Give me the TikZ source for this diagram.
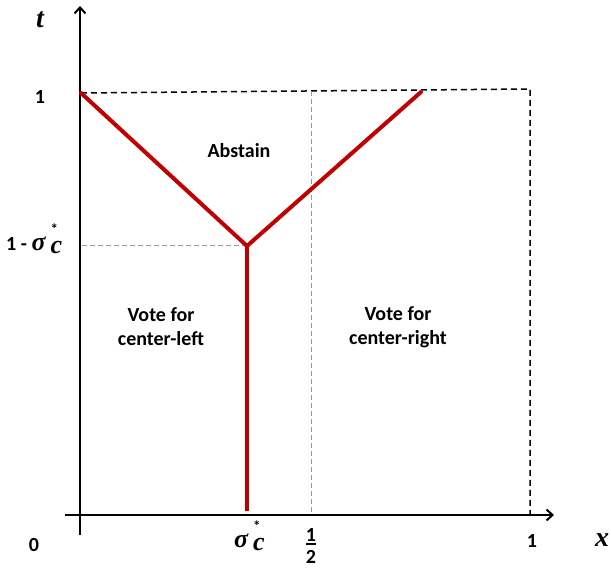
\documentclass[tikz,border=0pt]{standalone}
\usepackage{fontspec}
\setmainfont{Carlito}
\newfontfamily\axfont{Liberation Serif}
\usetikzlibrary{arrows.meta}
\newcommand{\sigcstar}{{\fontsize{26}{26}\selectfont\axfont\bfseries\itshape σ\kern5pt\rlap{\raisebox{-3pt}{c}}}\raisebox{16pt}{\fontsize{15}{15}\selectfont\bfseries *}\kern4pt}
\tikzset{
  axis/.style={line width=2.2pt, -{Straight Barb[length=6pt,width=11pt,line width=2pt]}},
  redline/.style={line width=4pt, draw={rgb,255:red,192;green,0;blue,0}, line cap=round, line join=miter},
  blackdash/.style={line width=1.5pt, dash pattern=on 6pt off 4pt},
  graydash/.style={line width=1pt, draw=gray!80, dash pattern=on 5pt off 3pt},
  lbl/.style={font=\fontsize{20}{24}\selectfont\bfseries, align=center, inner sep=0pt},
  axl/.style={font=\fontsize{28}{28}\selectfont\axfont\bfseries\itshape, inner sep=0pt}
}
\begin{document}
\begin{tikzpicture}[x=1pt,y=-1pt]
\useasboundingbox (0,0) rectangle (611,569);
% coordinates
\coordinate (O) at (80,515);
\coordinate (ybot) at (80,535);
\coordinate (ytop) at (80,6);
\coordinate (xl) at (65,515);
\coordinate (xr) at (554,515);
\coordinate (TL) at (81,93);
\coordinate (TR) at (530,89);
\coordinate (BR) at (530,514);
\coordinate (J) at (247,246);
\coordinate (RE) at (421,92);
\coordinate (RB) at (247,511);
\coordinate (HL) at (82,246);
\coordinate (HT) at (311,91);
\coordinate (HB) at (311,514);
% dashed guides
\draw[blackdash] (TL) -- (TR) -- (BR);
\draw[graydash] (HL) -- (J);
\draw[graydash] (HT) -- (HB);
% axes
\draw[axis] (ybot) -- (ytop);
\draw[axis] (xl) -- (xr);
% red boundaries
\draw[redline] (TL) -- (J) -- (RE);
\draw[redline, line cap=butt] (J) -- (RB);
% labels
\node[axl] (tlab) at (40,20) {t};
\node[axl] (xlab) at (602,540) {x};
\node[lbl] (one) at (40,97) {1};
\node[lbl, anchor=base west] (ones) at (6,251) {1 - \sigcstar};
\node[lbl] (zero) at (34,545) {0};
\node[lbl, anchor=base west] (sig) at (234,547) {\sigcstar};
\node[lbl] (halfnum) at (311,535) {1};
\node[lbl] (halfden) at (311,557) {2};
\fill (306,543) rectangle (316,545);
\node[lbl] (onex) at (532,541) {1};
\node[lbl] (abst) at (239,151) {Abstain};
\node[lbl] (left) at (161,327) {Vote for\\center-left};
\node[lbl] (right) at (398,327) {Vote for\\center-right};
\end{tikzpicture}
\end{document}
